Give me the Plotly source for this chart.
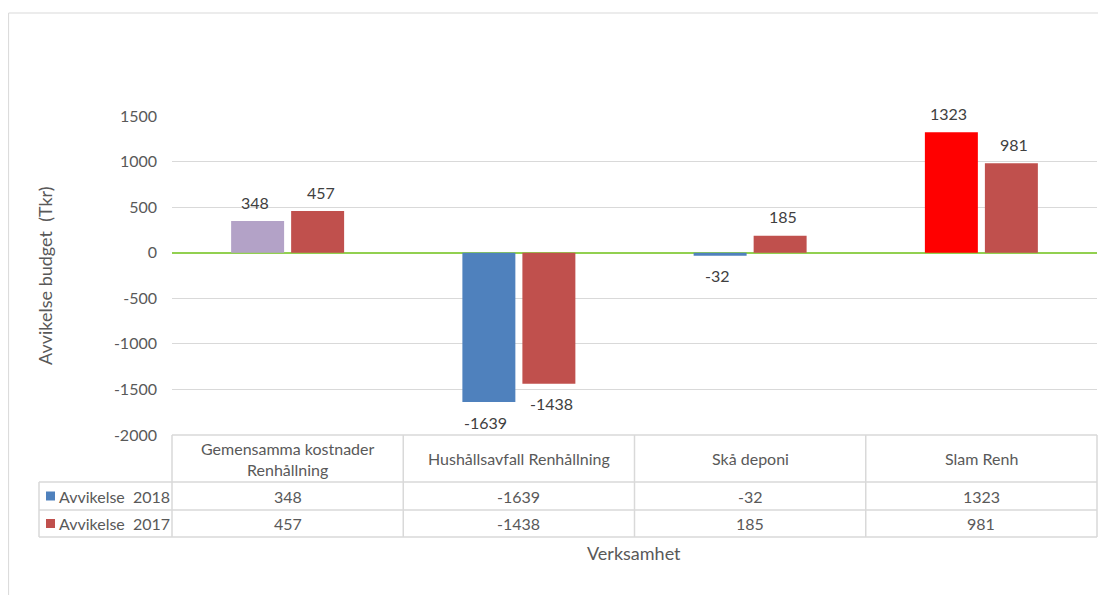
import plotly.graph_objects as go

categories = ["Gemensamma kostnader Renhållning", "Hushållsavfall Renhållning", "Skå deponi", "Slam Renh"]
header_labels = ["Gemensamma kostnader<br>Renhållning", "Hushållsavfall Renhållning", "Skå deponi", "Slam Renh"]
series_names = ["Avvikelse  2018", "Avvikelse  2017"]
values_2018 = [348, -1639, -32, 1323]
values_2017 = [457, -1438, 185, 981]
colors_2018 = ["#B3A2C7", "#4F81BD", "#4F81BD", "#FF0000"]
color_2018_legend = "#4F81BD"
color_2017 = "#C0504D"
y_ticks = [1500, 1000, 500, 0, -500, -1000, -1500, -2000]
y_tick_labels = ["1500", "1000", "500", "0", "-500", "-1000", "-1500", "-2000"]

# the page body has an 8px default margin; work in reference-pixel coordinates and shift
OFF = 8
W, H = 1106 - 2 * OFF, 603 - 2 * OFF
L, R, T, B = 172 - OFF, 1097 - OFF, 116 - OFF, 435 - OFF
FONT = "Lato, Calibri, Carlito, sans-serif"
TXT = "#595959"
GRID = "#D9D9D9"
TABLE_SIZE = 16


def px(xp):
    return (xp - OFF - L) / (R - L)


def py(yp):
    return (B - (yp - OFF)) / (B - T)


fig = go.Figure()
fig.add_trace(go.Bar(x=categories, y=values_2018, name=series_names[0],
                     marker=dict(color=colors_2018, line=dict(width=0))))
fig.add_trace(go.Bar(x=categories, y=values_2017, name=series_names[1],
                     marker=dict(color=color_2017, line=dict(width=0))))

annotations = []
# data labels
for vals, shift in ((values_2018, -33), (values_2017, 33)):
    for c, v in zip(categories, vals):
        annotations.append(dict(x=c, y=v, xref="x", yref="y", text=str(v), showarrow=False,
                                xshift=shift, yshift=19 if v >= 0 else -20,
                                font=dict(family=FONT, size=16, color="#404040")))

shapes = []
# outer chart border
shapes.append(dict(type="rect", xref="paper", yref="paper", x0=px(8.6), x1=px(1130), y0=py(640), y1=py(13),
                   line=dict(color="#D9D9D9", width=1), fillcolor="rgba(0,0,0,0)", layer="below"))

# data table
row_y = [435, 482, 510, 537]
col_x = [172 + i * (1097 - 172) / 4 for i in range(5)]
line_style = dict(color=GRID, width=1.5)
shapes.append(dict(type="line", xref="paper", yref="paper", x0=px(172), x1=px(1097),
                   y0=py(row_y[0]), y1=py(row_y[0]), line=line_style))
for yy in row_y[1:]:
    shapes.append(dict(type="line", xref="paper", yref="paper", x0=px(39), x1=px(1097), y0=py(yy), y1=py(yy),
                       line=line_style))
for xx in col_x:
    shapes.append(dict(type="line", xref="paper", yref="paper", x0=px(xx), x1=px(xx),
                       y0=py(row_y[0]), y1=py(row_y[3]), line=line_style))
shapes.append(dict(type="line", xref="paper", yref="paper", x0=px(39), x1=px(39),
                   y0=py(row_y[1]), y1=py(row_y[3]), line=line_style))

# header texts
for c, lab in zip(categories, header_labels):
    annotations.append(dict(x=c, xref="x", y=py((row_y[0] + row_y[1]) / 2), yref="paper", text=lab,
                            showarrow=False, font=dict(family=FONT, size=TABLE_SIZE, color=TXT),
                            yanchor="middle"))
# value rows
for r, (vals, name, col) in enumerate(((values_2018, series_names[0], color_2018_legend),
                                        (values_2017, series_names[1], color_2017))):
    yc = py((row_y[r + 1] + row_y[r + 2]) / 2)
    for c, v in zip(categories, vals):
        annotations.append(dict(x=c, xref="x", y=yc, yref="paper", text=str(v), showarrow=False,
                                font=dict(family=FONT, size=TABLE_SIZE, color=TXT), yanchor="middle"))
    shapes.append(dict(type="rect", xref="paper", yref="paper", x0=px(46), x1=px(55),
                       y0=yc - 4.5 / (B - T), y1=yc + 4.5 / (B - T), fillcolor=col, line=dict(width=0)))
    annotations.append(dict(x=px(57), xref="paper", y=yc, yref="paper", text=name, showarrow=False,
                            xanchor="left", yanchor="middle",
                            font=dict(family=FONT, size=TABLE_SIZE, color=TXT)))

# axis titles
annotations.append(dict(x=px(634), xref="paper", y=py(553), yref="paper", text="Verksamhet", showarrow=False,
                        font=dict(family=FONT, size=18, color=TXT), yanchor="middle"))
annotations.append(dict(x=px(45), xref="paper", y=py(275), yref="paper", text="Avvikelse budget  (Tkr)",
                        showarrow=False, textangle=-90, font=dict(family=FONT, size=18, color=TXT),
                        xanchor="center", yanchor="middle"))

fig.update_layout(
    width=W, height=H,
    margin=dict(l=L, r=W - R, t=T, b=H - B, pad=0),
    paper_bgcolor="white", plot_bgcolor="white",
    barmode="group", bargap=0.481, bargroupgap=0.117,
    showlegend=False,
    font=dict(family=FONT, size=16, color=TXT),
    xaxis=dict(showticklabels=False, showgrid=False, zeroline=False, showline=False, ticks=""),
    yaxis=dict(range=[-2000, 1500], tickvals=y_ticks, ticktext=y_tick_labels, showgrid=True,
               gridcolor=GRID, gridwidth=1,
               zeroline=True, zerolinecolor="#92D050", zerolinewidth=1.5, showline=False,
               ticks="", ticklabelstandoff=14, tickfont=dict(family=FONT, size=16, color=TXT)),
    shapes=shapes, annotations=annotations,
)

fig.write_html("out.html")
